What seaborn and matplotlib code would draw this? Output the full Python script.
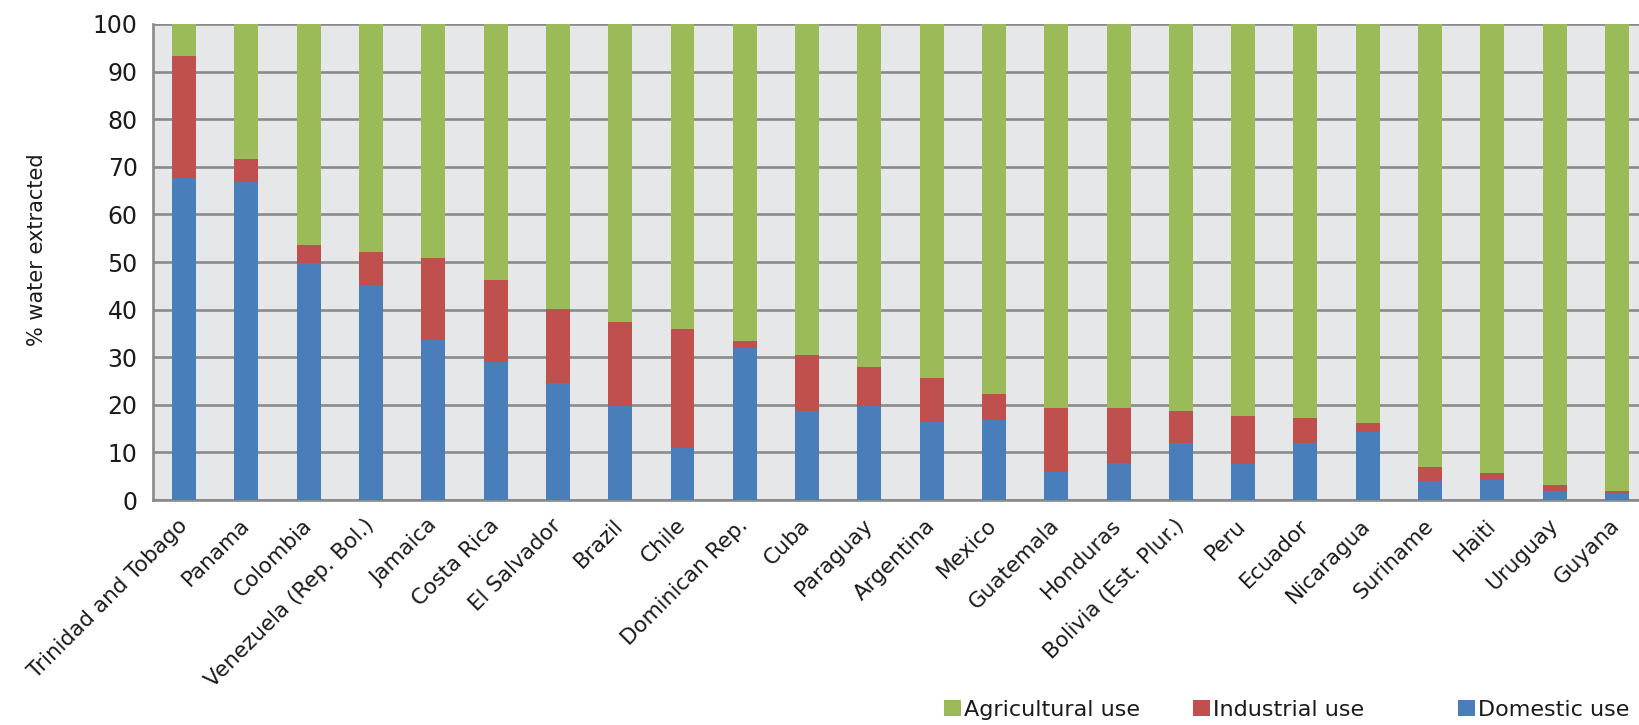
import matplotlib
matplotlib.use("Agg")
import matplotlib.pyplot as plt
import seaborn as sns
import numpy as np

countries = [
    "Trinidad and Tobago", "Panama", "Colombia", "Venezuela (Rep. Bol.)",
    "Jamaica", "Costa Rica", "El Salvador", "Brazil", "Chile",
    "Dominican Rep.", "Cuba", "Paraguay", "Argentina", "Mexico",
    "Guatemala", "Honduras", "Bolivia (Est. Plur.)", "Peru", "Ecuador",
    "Nicaragua", "Suriname", "Haiti", "Uruguay", "Guyana",
]
domestic = [67.6, 66.9, 49.7, 45.2, 33.6, 29.1, 24.5, 19.8, 10.9, 31.9, 18.6, 19.8,
            16.3, 16.8, 5.9, 7.7, 12.0, 7.5, 11.9, 14.2, 3.9, 4.5, 2.0, 1.5]
industrial = [25.7, 4.7, 3.9, 6.8, 17.3, 17.1, 15.6, 17.7, 25.0, 1.5, 11.9, 8.2,
              9.4, 5.4, 13.4, 11.6, 6.8, 10.1, 5.3, 1.9, 3.0, 1.1, 1.2, 0.3]
agricultural = [6.7, 28.4, 46.4, 48.0, 49.1, 53.8, 59.9, 62.5, 64.1, 66.6, 69.5, 72.0,
                74.3, 77.8, 80.7, 80.7, 81.2, 82.4, 82.8, 83.9, 93.1, 94.4, 96.8, 98.2]

yticks = list(range(0, 101, 10))
ylabel = "% water extracted"
series_names = ["Agricultural use", "Industrial use", "Domestic use"]

C_AGR = "#9bbb59"
C_IND = "#c0504d"
C_DOM = "#4a7ebb"
GRID = "#8a8a8a"
TEXT = "#1a1a1a"

sns.set_theme(style="white")
plt.rcParams["font.family"] = ["DejaVu Sans"]

fig = plt.figure(figsize=(16.4, 7.25), dpi=100)
ax = fig.add_axes([0.0933, 0.3103, 0.9116, 0.6566])
ax.set_facecolor("#e6e7e9")

dom = np.array(domestic)
ind = np.array(industrial)
bw = 0.385

# stacked bars: domestic at the base, industrial above, agricultural on top
sns.barplot(x=countries, y=domestic, color=C_DOM, width=bw, saturation=1,
            errorbar=None, ax=ax, label=series_names[2], zorder=3, linewidth=0)
sns.barplot(x=countries, y=industrial, bottom=dom, color=C_IND, width=bw, saturation=1,
            errorbar=None, ax=ax, label=series_names[1], zorder=3, linewidth=0)
sns.barplot(x=countries, y=agricultural, bottom=dom + ind, color=C_AGR, width=bw,
            saturation=1, errorbar=None, ax=ax, label=series_names[0], zorder=3,
            linewidth=0)

ax.set_xlim(-0.5, len(countries) - 0.5)
ax.set_ylim(0, 100)
ax.set_yticks(yticks)
ax.set_yticklabels([str(v) for v in yticks], fontsize=17, color=TEXT)
ax.yaxis.grid(True, color=GRID, linewidth=1.9, zorder=1)
ax.set_axisbelow(True)
ax.tick_params(axis="y", length=7, width=1.9, color=GRID, pad=4)

ax.set_xticks(range(len(countries)))
ax.set_xticklabels(countries, rotation=45, ha="right", va="center",
                   rotation_mode="anchor", fontsize=15.5, color=TEXT)
ax.set_xticks(np.arange(-0.5, len(countries), 1.0), minor=True)
ax.tick_params(axis="x", which="major", length=0, pad=16)
ax.tick_params(axis="x", which="minor", length=8, width=1.9, color=GRID)
ax.set_xlabel("")
ax.set_ylabel(ylabel, fontsize=15, color=TEXT)
ax.yaxis.set_label_coords(-0.0709, 0.526)

for side in ["left", "bottom"]:
    ax.spines[side].set_color(GRID)
    ax.spines[side].set_linewidth(1.9)
for side in ["top", "right"]:
    ax.spines[side].set_visible(False)

handles, labels = ax.get_legend_handles_labels()
lookup = dict(zip(labels, handles))
if ax.get_legend() is not None:
    ax.get_legend().remove()

legend_x = {"Agricultural use": 944, "Industrial use": 1193, "Domestic use": 1458}
for name in series_names:
    fig.legend([lookup[name]], [name], loc="center left",
               bbox_to_anchor=(legend_x[name] / 1640, 1 - 710 / 725),
               frameon=False, fontsize=16, handlelength=0.75, handleheight=0.75,
               handletextpad=0.15, borderpad=0, borderaxespad=0, labelcolor=TEXT)

fig.savefig("out.png", dpi=100, facecolor="white")
